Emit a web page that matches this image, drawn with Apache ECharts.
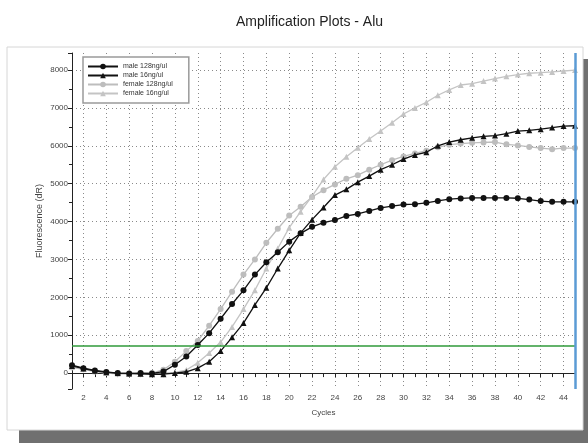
<!DOCTYPE html>
<html>
<head>
<meta charset="utf-8">
<script src="https://cdn.jsdelivr.net/npm/echarts@6/dist/echarts.min.js"></script>
<style>
html,body{margin:0;padding:0;background:#fff;}
#chart{width:588px;height:443px;}
</style>
</head>
<body>
<div id="chart"></div>
<script>
var cycles = [];
for (var i = 1; i <= 45; i++) cycles.push(String(i));

var male128 = [210,130,70,30,0,-10,0,-10,40,220,440,740,1055,1435,1825,2185,2600,2925,3190,3470,3690,3860,3970,4040,4150,4200,4280,4360,4410,4450,4460,4495,4545,4590,4610,4625,4625,4625,4625,4615,4580,4540,4520,4520,4520];
var male16 = [190,120,60,20,0,-10,-20,-30,-30,0,35,130,300,580,945,1320,1800,2250,2760,3240,3700,4050,4370,4700,4850,5040,5200,5370,5500,5650,5760,5830,6000,6100,6160,6210,6250,6270,6320,6390,6410,6440,6480,6520,6530];
var female128 = [150,100,40,0,-20,-20,-10,0,90,300,580,850,1250,1690,2150,2600,3000,3440,3810,4160,4390,4650,4830,4980,5130,5225,5370,5500,5620,5720,5800,5870,5960,6030,6060,6080,6090,6100,6040,6010,5970,5940,5910,5940,5940];
var female16 = [170,110,50,10,-10,-20,-20,-10,0,20,80,270,530,820,1220,1690,2190,2760,3290,3840,4260,4670,5110,5450,5710,5950,6180,6390,6610,6840,7000,7150,7335,7475,7605,7640,7710,7775,7835,7880,7915,7930,7950,7975,8000];

var seriesNames = ['male 128ng/ul','male 16ng/ul','female 128ng/ul','female 16ng/ul'];
var threshold = 720;
var endCycle = '45';

var FONT = 'Liberation Sans, Arial, sans-serif';
var chart = echarts.init(document.getElementById('chart'));

function mk(name, data, color, symbol, z) {
  return {
    name: name, type: 'line', data: data, z: z,
    symbol: symbol, symbolSize: 6,
    itemStyle: {color: color},
    lineStyle: {color: color, width: 1.3},
    emphasis: {disabled: true},
    animation: false
  };
}

var s1 = mk(seriesNames[0], male128, '#111111', 'circle', 4);
var s2 = mk(seriesNames[1], male16, '#111111', 'triangle', 4);
var s3 = mk(seriesNames[2], female128, '#bdbdbd', 'circle', 3);
var s4 = mk(seriesNames[3], female16, '#c4c4c4', 'triangle', 3);
s1.markLine = {
  silent: true, symbol: 'none', animation: false,
  label: {show: false},
  data: [
    {yAxis: threshold, lineStyle: {color: '#2f9a3a', width: 1.5, type: 'solid'}},
    {xAxis: endCycle, lineStyle: {color: '#5b9bd5', width: 2.5, type: 'solid'}}
  ]
};

chart.setOption({
  backgroundColor: '#ffffff',
  animation: false,
  textStyle: {fontFamily: FONT},
  title: {
    text: 'Amplification Plots - Alu',
    left: 231, top: 10,
    textStyle: {fontSize: 14, fontWeight: 'normal', color: '#222', fontFamily: FONT}
  },
  graphic: [
    {type: 'rect', z: -10, shape: {x: 19, y: 59, width: 569, height: 384}, style: {fill: '#707070'}},
    {type: 'rect', z: -9, shape: {x: 7, y: 47, width: 576, height: 383}, style: {fill: '#ffffff', stroke: '#d6d6d6', lineWidth: 1}}
  ],
  legend: {
    orient: 'vertical',
    left: 83, top: 57,
    padding: [6, 16, 6, 4],
    itemWidth: 30, itemHeight: 7, itemGap: 2,
    borderColor: '#9a9a9a', borderWidth: 1.5,
    backgroundColor: '#fff',
    textStyle: {fontSize: 7, color: '#333', fontFamily: FONT},
    data: seriesNames
  },
  grid: {left: 72, right: 13, top: 53, bottom: 54},
  xAxis: {
    type: 'category', data: cycles, boundaryGap: false,
    name: 'Cycles', nameLocation: 'middle', nameGap: 20,
    nameTextStyle: {fontSize: 8, color: '#444', fontFamily: FONT},
    axisLine: {lineStyle: {color: '#222', width: 1}},
    axisTick: {interval: 0, length: 4, lineStyle: {color: '#222'}},
    axisLabel: {
      fontSize: 8, color: '#444', margin: 5,
      interval: function (idx, val) { return Number(val) % 2 === 0; }
    },
    splitLine: {
      show: true,
      interval: function (idx, val) { return Number(val) % 2 === 0; },
      lineStyle: {color: '#8a8a8a', type: [1, 3], width: 1}
    }
  },
  yAxis: {
    type: 'value', min: -420, max: 8450, splitNumber: 9,
    minInterval: 1000, maxInterval: 1000,
    name: 'Fluorescence (dR)', nameLocation: 'middle', nameGap: 28,
    nameMoveOverlap: false,
    nameTextStyle: {fontSize: 9, color: '#444', fontFamily: FONT},
    axisLine: {show: true, lineStyle: {color: '#222', width: 1}},
    axisTick: {show: true, length: 4, lineStyle: {color: '#222'}},
    minorTick: {show: true, splitNumber: 2, length: 3, lineStyle: {color: '#222'}},
    axisLabel: {
      fontSize: 8, color: '#444', margin: 4, showMinLabel: false, showMaxLabel: false,
      formatter: function (v) { return String(v); }
    },
    splitLine: {show: true, showMinLine: false, showMaxLine: false, lineStyle: {color: '#8a8a8a', type: [1, 3], width: 1}}
  },
  series: [s1, s2, s3, s4]
});
</script>
</body>
</html>
